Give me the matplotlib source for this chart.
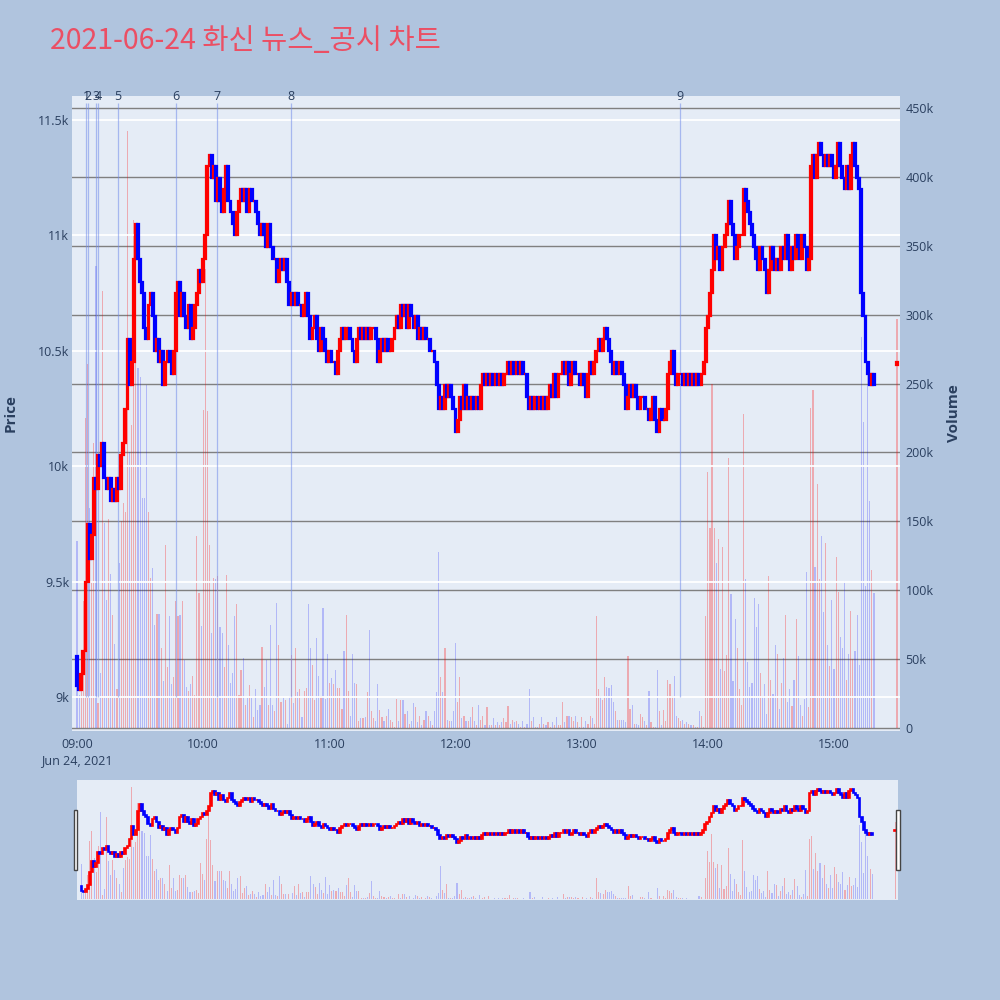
import matplotlib

matplotlib.use("Agg")
import matplotlib.pyplot as plt
import numpy as np
from matplotlib.patches import Rectangle

TITLE = "2021-06-24 화신 뉴스_공시 차트"

# one-minute closes (won), minute 0 = 09:00
first_open = 9180
close_09 = [9050, 9030, 9100, 9200, 9500, 9750, 9600, 9700, 9950, 9900,
            10050, 10000, 10100, 9950, 9900, 9950, 9850, 9900, 9850, 9950,
            9900, 10050, 10100, 10250, 10550, 10350, 10450, 10900, 11050, 10900,
            10800, 10750, 10600, 10550, 10700, 10750, 10650, 10500, 10550, 10450,
            10500, 10350, 10450, 10500, 10450, 10400, 10500, 10750, 10800, 10650,
            10750, 10650, 10600, 10700, 10550, 10600, 10700, 10750, 10850, 10800]
close_10 = [10900, 11000, 11300, 11350, 11250, 11300, 11150, 11250, 11150, 11100,
            11200, 11300, 11150, 11100, 11050, 11000, 11100, 11150, 11200, 11150,
            11200, 11100, 11200, 11150, 11150, 11100, 11050, 11000, 11050, 11000,
            10950, 11050, 10950, 10900, 10900, 10800, 10850, 10900, 10850, 10900,
            10800, 10700, 10750, 10700, 10750, 10700, 10700, 10650, 10700, 10750,
            10650, 10550, 10600, 10650, 10550, 10500, 10600, 10550, 10500, 10450]
close_11 = [10500, 10450, 10450, 10400, 10500, 10550, 10600, 10550, 10600, 10600,
            10550, 10500, 10450, 10550, 10600, 10550, 10600, 10550, 10600, 10550,
            10600, 10600, 10550, 10450, 10500, 10550, 10500, 10550, 10500, 10500,
            10550, 10600, 10650, 10600, 10700, 10650, 10700, 10600, 10700, 10650,
            10600, 10650, 10550, 10600, 10550, 10600, 10550, 10550, 10500, 10500,
            10450, 10350, 10250, 10300, 10250, 10350, 10300, 10350, 10300, 10250]
close_12 = [10150, 10200, 10300, 10250, 10350, 10250, 10300, 10250, 10300, 10250,
            10300, 10250, 10350, 10400, 10350, 10400, 10350, 10400, 10350, 10400,
            10350, 10400, 10350, 10400, 10400, 10450, 10400, 10450, 10400, 10450,
            10400, 10450, 10400, 10400, 10300, 10250, 10300, 10250, 10300, 10250,
            10300, 10250, 10300, 10250, 10300, 10350, 10300, 10400, 10300, 10400,
            10400, 10450, 10400, 10450, 10350, 10400, 10450, 10400, 10400, 10350]
close_13 = [10400, 10350, 10300, 10400, 10450, 10400, 10450, 10500, 10550, 10500,
            10550, 10600, 10550, 10500, 10450, 10400, 10450, 10400, 10450, 10400,
            10350, 10250, 10300, 10350, 10300, 10350, 10300, 10250, 10300, 10300,
            10250, 10250, 10200, 10250, 10300, 10200, 10150, 10250, 10200, 10200,
            10250, 10400, 10450, 10500, 10400, 10350, 10400, 10400, 10350, 10400,
            10350, 10400, 10350, 10400, 10350, 10400, 10350, 10400, 10450, 10600]
close_14 = [10650, 10750, 10850, 11000, 10900, 10950, 10850, 10950, 11000, 11050,
            11150, 11050, 11000, 10900, 10950, 11000, 11000, 11200, 11150, 11100,
            11050, 11000, 10950, 10900, 10850, 10950, 10900, 10850, 10750, 10850,
            10950, 10900, 10850, 10900, 10850, 10950, 10900, 11000, 10900, 10850,
            10950, 10900, 11000, 10950, 10900, 11000, 10950, 10850, 10900, 11300,
            11350, 11250, 11350, 11400, 11350, 11300, 11350, 11300, 11350, 11300]
close_15 = [11250, 11300, 11400, 11300, 11250, 11200, 11300, 11200, 11350, 11400,
            11300, 11250, 11200, 10750, 10650, 10450, 10400, 10350, 10400, 10350]

# one-minute volume (thousand shares)
vol_09 = [136, 24, 31, 92, 225, 264, 160, 106, 207, 335, 18, 40, 317, 149, 93, 152, 112, 82, 61, 28,
          120, 150, 163, 157, 433, 200, 220, 369, 349, 261, 255, 167, 167, 249, 157, 109, 116, 75, 83, 83,
          58, 34, 133, 44, 81, 32, 37, 92, 81, 82, 92, 49, 30, 27, 32, 38, 24, 139, 98, 74]
vol_10 = [231, 333, 230, 133, 69, 109, 108, 110, 73, 69, 44, 111, 60, 33, 40, 81, 90, 24, 42, 51,
          17, 22, 31, 22, 8, 28, 13, 17, 59, 30, 49, 17, 75, 17, 12, 91, 60, 19, 22, 20,
          3, 23, 53, 18, 58, 26, 28, 8, 27, 29, 90, 58, 46, 20, 65, 38, 23, 87, 21, 54]
vol_11 = [33, 36, 32, 42, 29, 29, 14, 56, 82, 27, 9, 54, 33, 32, 5, 7, 7, 8, 26, 71,
          12, 7, 5, 32, 13, 8, 5, 9, 14, 6, 4, 1, 21, 5, 20, 20, 10, 12, 3, 5,
          18, 15, 4, 9, 2, 6, 12, 9, 5, 2, 12, 26, 128, 37, 26, 58, 6, 5, 5, 12]
vol_12 = [62, 19, 37, 7, 9, 5, 5, 8, 15, 5, 2, 17, 6, 9, 2, 15, 2, 2, 7, 2,
          4, 2, 4, 7, 4, 16, 3, 6, 4, 5, 3, 1, 5, 1, 3, 28, 5, 8, 1, 1,
          3, 8, 3, 2, 4, 1, 4, 2, 8, 2, 2, 19, 4, 9, 9, 8, 5, 9, 4, 1]
vol_13 = [8, 1, 5, 3, 9, 7, 3, 81, 28, 23, 20, 37, 30, 29, 31, 19, 12, 6, 6, 6,
          6, 4, 52, 14, 17, 3, 3, 2, 10, 8, 5, 2, 27, 4, 1, 1, 42, 12, 2, 13,
          5, 35, 32, 23, 38, 9, 7, 5, 6, 3, 4, 3, 2, 2, 1, 1, 12, 9, 1, 81]
vol_14 = [186, 145, 250, 145, 120, 137, 43, 131, 41, 53, 196, 97, 34, 79, 58, 28, 17, 228, 108, 48,
          30, 33, 94, 73, 90, 40, 23, 32, 10, 110, 35, 25, 60, 54, 14, 33, 51, 82, 19, 28,
          16, 35, 79, 52, 17, 9, 21, 113, 15, 232, 245, 117, 177, 108, 139, 84, 134, 60, 45, 93]
vol_15 = [43, 124, 99, 66, 58, 107, 35, 54, 85, 50, 56, 82, 46, 284, 222, 103, 261, 165, 115, 98]

# 15:30 closing auction
auction_minute = 390
auction_open = 10440
auction_close = 10450
auction_vol = 297

news_minutes = [4.3, 5.0, 9.0, 10.0, 19.5, 47.1, 66.7, 101.9, 286.7]
news_labels = ["1", "2", "3", "4", "5", "6", "7", "8", "9"]

hour_ticks = [0, 60, 120, 180, 240, 300, 360]
hour_labels = ["09:00\nJun 24, 2021", "10:00", "11:00", "12:00", "13:00", "14:00", "15:00"]
price_ticks = [9000, 9500, 10000, 10500, 11000, 11500]
price_labels = ["9k", "9.5k", "10k", "10.5k", "11k", "11.5k"]
vol_ticks = [0, 50, 100, 150, 200, 250, 300, 350, 400, 450]
vol_labels = ["0", "50k", "100k", "150k", "200k", "250k", "300k", "350k", "400k", "450k"]

FIG_BG = "#b0c4de"
PLOT_BG = "#e5ecf6"
FONT_COLOR = "#2a3f5f"
UP = "#ff0000"
DOWN = "#0000ff"
XLIM = (-2.4, 391.4)
PRICE_LIM = (8853, 11604)
VOL_LIM = (-2.2, 458.7)


def build_series():
    day_close = close_09 + close_10 + close_11 + close_12 + close_13 + close_14 + close_15
    day_vol = vol_09 + vol_10 + vol_11 + vol_12 + vol_13 + vol_14 + vol_15
    minutes = np.r_[np.arange(len(day_close)), auction_minute].astype(float)
    closes = np.array(day_close + [auction_close], dtype=float)
    opens = np.array([first_open] + day_close[:-1] + [auction_open], dtype=float)
    volume = np.array(day_vol + [auction_vol], dtype=float)
    return minutes, opens, closes, volume


def draw_candles(ax, x, opens, closes, width, lw):
    up = closes >= opens
    colors = np.where(up, UP, DOWN)
    bottom = np.minimum(opens, closes)
    height = np.abs(closes - opens)
    ax.bar(x, height, bottom=bottom, width=width, color=colors, edgecolor=colors,
           linewidth=lw, zorder=3)


def draw_volume(ax, x, volume, up, width):
    colors = [(1, 0, 0, 0.28) if u else (0, 0, 1, 0.22) for u in up]
    ax.bar(x, volume, width=width, color=colors, linewidth=0, zorder=2)


def main() -> None:
    minutes, opens, closes, volume = build_series()
    up = closes >= opens

    plt.rcParams["font.family"] = ["Open Sans", "DejaVu Sans"]
    fig = plt.figure(figsize=(10, 10), dpi=100, facecolor=FIG_BG)

    # main panel: volume underneath, price on top
    rect = [0.072, 0.269, 0.828, 0.635]
    axv = fig.add_axes(rect, facecolor=PLOT_BG)
    axp = fig.add_axes(rect, facecolor="none")
    axv.set_zorder(1)
    axp.set_zorder(2)

    draw_volume(axv, minutes, volume, up, 0.55)
    axv.set_xlim(*XLIM)
    axv.set_ylim(*VOL_LIM)
    axv.set_yticks(vol_ticks)
    axv.set_yticklabels(vol_labels)
    axv.yaxis.tick_right()
    axv.set_xticks([])
    axv.set_axisbelow(True)
    axv.yaxis.grid(True, color="#808080", linewidth=1.0)
    axv.tick_params(axis="y", length=0, pad=4, labelsize=9, labelcolor=FONT_COLOR)

    axp.vlines(news_minutes, 9000, 11575, color=(0.45, 0.55, 0.92), alpha=0.55,
               linewidth=0.9, zorder=2)
    for m, label in zip(news_minutes, news_labels):
        axp.text(m, 11600, label, ha="center", va="center", fontsize=9,
                 color=FONT_COLOR, clip_on=False, zorder=5)
    draw_candles(axp, minutes, opens, closes, 0.9, 1.6)
    axp.set_xlim(*XLIM)
    axp.set_ylim(*PRICE_LIM)
    axp.set_yticks(price_ticks)
    axp.set_yticklabels(price_labels)
    axp.set_xticks(hour_ticks)
    axp.set_xticklabels(hour_labels, linespacing=1.3)
    axp.set_axisbelow(True)
    axp.yaxis.grid(True, color="white", linewidth=1.3)
    axp.tick_params(axis="y", length=0, pad=2, labelsize=9, labelcolor=FONT_COLOR)
    axp.tick_params(axis="x", length=0, pad=5, labelsize=9, labelcolor=FONT_COLOR)

    for axis in (axv, axp):
        for spine in axis.spines.values():
            spine.set_visible(False)

    fig.text(0.011, 0.587, "Price", rotation=90, ha="center", va="center",
             fontsize=11, fontweight="bold", color=FONT_COLOR)
    fig.text(0.954, 0.587, "Volume", rotation=90, ha="center", va="center",
             fontsize=11, fontweight="bold", color=FONT_COLOR)
    fig.text(0.05, 0.959, TITLE, ha="left", va="center", fontsize=20.5, color="#eb4f64",
             family=["Noto Sans CJK KR", "DejaVu Sans"])

    # range slider preview
    srect = [0.0765, 0.100, 0.8215, 0.120]
    sv = fig.add_axes(srect, facecolor=PLOT_BG)
    sp = fig.add_axes(srect, facecolor="none")
    sv.set_zorder(1)
    sp.set_zorder(2)
    draw_volume(sv, minutes, volume, up, 0.5)
    draw_candles(sp, minutes, opens, closes, 0.8, 1.2)
    for axis, lim in ((sv, VOL_LIM), (sp, PRICE_LIM)):
        axis.set_xlim(*XLIM)
        axis.set_ylim(*lim)
        axis.set_xticks([])
        axis.set_yticks([])
        for spine in axis.spines.values():
            spine.set_visible(False)

    for left in (0.0735, 0.896):
        fig.patches.append(Rectangle((left, 0.130), 0.0035, 0.060, transform=fig.transFigure,
                                     facecolor="white", edgecolor="#444444", linewidth=1.0,
                                     zorder=5))

    fig.savefig("out.png", dpi=100, facecolor=FIG_BG)
    plt.close(fig)


if __name__ == "__main__":
    main()
